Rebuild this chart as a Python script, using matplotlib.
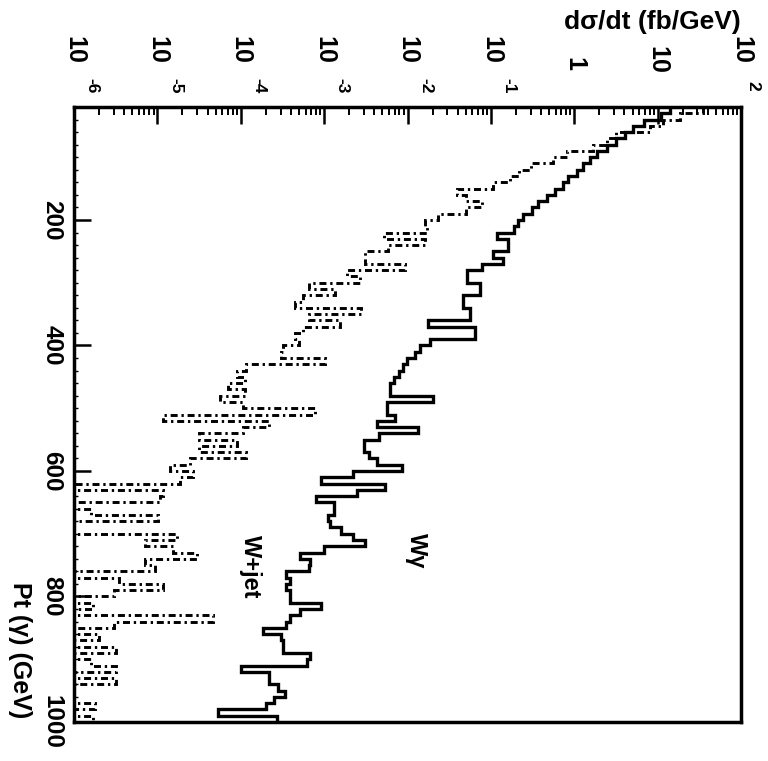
import numpy as np
import matplotlib
matplotlib.use('Agg')
import matplotlib.pyplot as plt
import matplotlib.transforms as mtransforms
from matplotlib.ticker import FixedLocator, LogLocator, MultipleLocator, NullFormatter

# ---------------- data ----------------
pt_edges = np.arange(20, 1010, 10)          # Pt(gamma) bin edges, GeV

# W gamma  (solid histogram), d sigma / dt  [fb/GeV]
wgamma = [
    14, 11, 6.8, 5.1, 4.1, 3.2, 2.45, 1.86, 1.55, 1.29,            # 20-110
    1.07, 0.85, 0.74, 0.59, 0.47, 0.37, 0.31, 0.245, 0.21, 0.19,   # 120-210
    0.12, 0.16, 0.16, 0.105, 0.138, 0.079, 0.052, 0.052, 0.074, 0.074,  # 220-310
    0.046, 0.046, 0.056, 0.056, 0.0178, 0.065, 0.065, 0.0186, 0.0141, 0.0123,  # 320-410
    0.0098, 0.0089, 0.0079, 0.0068, 0.0062, 0.0062, 0.020, 0.0056, 0.0056, 0.0071,  # 420-510
    0.0043, 0.0135, 0.0045, 0.0030, 0.0030, 0.0035, 0.0043, 0.0085, 0.0022, 0.00093,  # 520-610
    0.0054, 0.0025, 0.00081, 0.0013, 0.0013, 0.0011, 0.00117, 0.0016, 0.0022, 0.0031,  # 620-710
    0.0010, 0.00051, 0.00068, 0.00065, 0.00035, 0.00039, 0.00035, 0.00039, 0.00039, 0.00093,  # 720-810
    0.00051, 0.00039, 0.00035, 0.000186, 0.00030, 0.00032, 0.00032, 0.00068, 0.00063, 0.00010,  # 820-910
    0.00022, 0.00022, 0.00028, 0.00034, 0.00025, 0.00020, 0.000054, 0.00027,  # 920-990
]

# W + jet  (dash-dotted histogram), d sigma / dt  [fb/GeV]
wjet = [
    35, 18.6, 11.5, 8.1, 3.2, 2.45, 1.66, 0.81, 0.55, 0.30,        # 20-110
    0.22, 0.17, 0.105, 0.039, 0.051, 0.079, 0.051, 0.023, 0.016, 0.017,  # 120-210
    0.0052, 0.016, 0.0059, 0.0031, 0.0031, 0.0093, 0.0019, 0.0027, 0.00065, 0.00135,  # 220-310
    0.00056, 0.00045, 0.0028, 0.00065, 0.00155, 0.00056, 0.00045, 0.0005, 0.00032, 0.00030,  # 320-410
    0.00102, 0.000117, 0.000089, 0.000112, 0.000071, 0.000112, 0.000056, 0.000107, 0.00078, 0.0000117,  # 420-510
    0.00022, 0.000107, 0.0000316, 0.000089, 0.0000316, 0.000117, 0.0000245, 0.0000141, 0.0000269, 0.0000186,  # 520-610
    0.0, 0.0000117, 0.0000107, 0.0, 0.0000016, 0.0000102, 0.0, 0.0, 0.000017, 0.0000071,  # 620-710
    0.0000155, 0.0000295, 0.0000071, 0.0000093, 0.0, 0.0000035, 0.0000117, 0.000003, 0.0, 0.0000017,  # 720-810
    0.0, 0.0000468, 0.000003, 0.0, 0.000002, 0.0, 0.0000032, 0.0, 0.0000016, 0.0000032,  # 820-910
    0.0, 0.0000032, 0.0, 0.0, 0.0, 0.0000018, 0.0, 0.0000017,  # 920-990
]

sigma_decades = [-6, -5, -4, -3, -2, -1, 0, 1, 2]
pt_ticks = [200, 400, 600, 800, 1000]
series_labels = ['Wγ', 'W+jet']
xlabel = 'dσ/dt (fb/GeV)'
ylabel = 'Pt (γ) (GeV)'

assert len(wgamma) == len(pt_edges) - 1
assert len(wjet) == len(pt_edges) - 1

# ---------------- figure ----------------
W, H = 768, 761
fig = plt.figure(figsize=(W / 100, H / 100), dpi=100)
L, R, T, B = 74, 741, 107, 722
ax = fig.add_axes([L / W, 1 - B / H, (R - L) / W, (B - T) / H])
ax.set_xscale('log', nonpositive='clip')
ax.set_xlim(1e-6, 1e2)
ax.set_ylim(1000, 20)

ax.stairs(wgamma, pt_edges, orientation='horizontal', baseline=None,
          color='black', lw=2.4)
ax.stairs(wjet, pt_edges, orientation='horizontal', baseline=None,
          color='black', lw=2.1, linestyle=(0, (2.4, 1.3, 0.8, 1.3)))

# ticks
ax.xaxis.set_ticks_position('top')
ax.xaxis.set_major_locator(FixedLocator([10.0 ** e for e in sigma_decades]))
ax.xaxis.set_minor_locator(LogLocator(base=10, subs=np.arange(2, 10), numticks=100))
ax.xaxis.set_minor_formatter(NullFormatter())
ax.tick_params(axis='x', which='major', direction='in', length=12, width=1.8,
               top=True, bottom=False, labeltop=False, labelbottom=False)
ax.tick_params(axis='x', which='minor', direction='in', length=6, width=1.4,
               top=True, bottom=False)
ax.yaxis.set_major_locator(FixedLocator(pt_ticks))
ax.yaxis.set_minor_locator(MultipleLocator(20))
ax.tick_params(axis='y', which='major', direction='in', length=12, width=1.8,
               left=True, right=False, labelleft=False)
ax.tick_params(axis='y', which='minor', direction='in', length=3, width=1.0,
               left=True, right=False)
for s in ax.spines.values():
    s.set_linewidth(2.5)

font = dict(family='Liberation Sans', weight='bold')

# top (sigma) tick labels, rotated like the original
trans = mtransforms.blended_transform_factory(ax.transData, fig.transFigure)
for e in sigma_decades:
    xv = 10.0 ** e
    if e == 0:
        ax.text(xv, 1 - 64 / H, '1', transform=trans, rotation=-90, ha='center',
                va='center', fontsize=18, clip_on=False, **font)
    elif e == 1:
        ax.text(xv, 1 - 60 / H, '10', transform=trans, rotation=-90, ha='center',
                va='center', fontsize=18, clip_on=False, **font)
    else:
        ax.text(xv, 1 - 50 / H, '10', transform=trans, rotation=-90, ha='center',
                va='center', fontsize=18, clip_on=False, **font)
        dx = 12 if e == 2 else 18
        tr2 = mtransforms.offset_copy(trans, fig=fig, x=dx, y=0, units='dots')
        ax.text(xv, 1 - 86 / H, str(e), transform=tr2, rotation=-90, ha='center',
                va='center', fontsize=12.5, clip_on=False, **font)

# left (Pt) tick labels
trans_y = mtransforms.blended_transform_factory(fig.transFigure, ax.transData)
for p in pt_ticks:
    ax.text(52 / W, p, str(p), transform=trans_y, rotation=-90, ha='center',
            va='center', fontsize=17.5, clip_on=False, **font)

# axis titles
fig.text(741 / W, 1 - 22 / H, xlabel, ha='right', va='center', fontsize=19, **font)
fig.text(20 / W, 1 - 718 / H, ylabel, rotation=-90, ha='center', va='bottom',
         fontsize=18, **font)

# series labels
fig.text(416 / W, 1 - 551 / H, series_labels[0], rotation=-90, ha='center',
         va='center', fontsize=17, **font)
fig.text(250 / W, 1 - 567 / H, series_labels[1], rotation=-90, ha='center',
         va='center', fontsize=17, **font)

fig.savefig('out.png', dpi=100)
